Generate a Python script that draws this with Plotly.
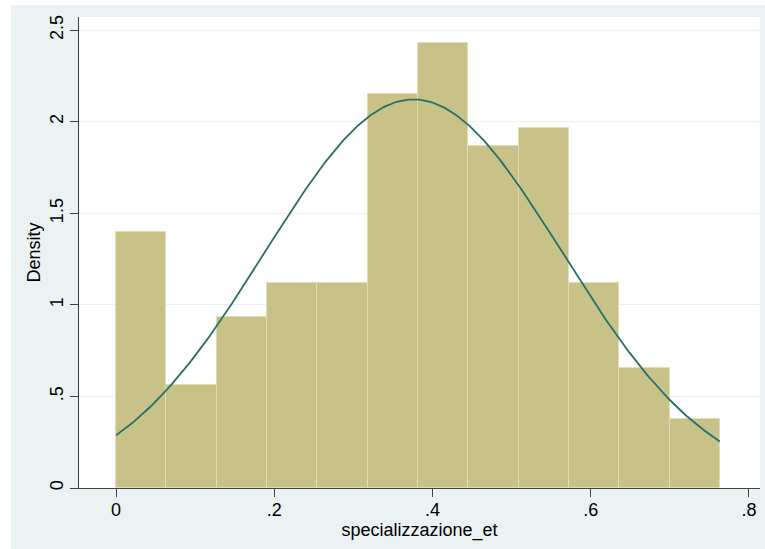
import numpy as np
import plotly.graph_objects as go

# Histogram data (density per bin)
bin_start = 0.0
bin_width = 0.0636
density = [1.40, 0.56, 0.935, 1.12, 1.12, 2.15, 2.43, 1.87, 1.965, 1.12, 0.655, 0.375]

# Normal overlay parameters
mu = 0.376
sigma = 0.188

x_ticks = [0, 0.2, 0.4, 0.6, 0.8]
x_tick_labels = ["0", ".2", ".4", ".6", ".8"]
y_ticks = [0, 0.5, 1, 1.5, 2, 2.5]
y_tick_labels = ["0", ".5", "1", "1.5", "2", "2.5"]

n_bins = len(density)
centers = [bin_start + bin_width * (i + 0.5) for i in range(n_bins)]
x_end = bin_start + bin_width * n_bins
xc = np.linspace(bin_start, x_end, 300)
yc = np.exp(-((xc - mu) ** 2) / (2 * sigma ** 2)) / (sigma * np.sqrt(2 * np.pi))

fig = go.Figure()
fig.add_trace(go.Bar(
    x=centers, y=density, width=bin_width,
    marker=dict(color="#C8C289", line=dict(color="#E2DEB3", width=1)),
    hoverinfo="skip", showlegend=False,
))
fig.add_trace(go.Scatter(
    x=xc, y=yc, mode="lines",
    line=dict(color="#27706A", width=1.8),
    hoverinfo="skip", showlegend=False,
))

W, H = 765, 549
ml, mr, mt, mb = 79, 5, 17, 61
pw, ph = W - ml - mr, H - mt - mb

def px_to_paper_x(px):
    return (px - ml) / pw

def px_to_paper_y(py):
    return (H - mb - py) / ph

fig.add_shape(type="rect", xref="paper", yref="paper",
              x0=px_to_paper_x(0), x1=px_to_paper_x(11),
              y0=px_to_paper_y(H), y1=px_to_paper_y(0),
              fillcolor="white", line=dict(width=0), layer="below")
fig.add_shape(type="rect", xref="paper", yref="paper",
              x0=px_to_paper_x(0), x1=px_to_paper_x(W),
              y0=px_to_paper_y(5), y1=px_to_paper_y(0),
              fillcolor="white", line=dict(width=0), layer="below")

font = dict(family="Liberation Sans, Arial, Helvetica, sans-serif", size=18, color="black")

fig.update_layout(
    width=W, height=H,
    margin=dict(l=ml, r=mr, t=mt, b=mb),
    paper_bgcolor="#EAF2F3",
    plot_bgcolor="white",
    font=font,
    bargap=0,
    xaxis=dict(
        range=[-0.0468, 0.814],
        tickvals=x_ticks, ticktext=x_tick_labels,
        ticks="outside", ticklen=8, tickcolor="#404040", tickwidth=1,
        showline=True, linecolor="#404040", linewidth=1,
        showgrid=False, zeroline=False,
        title=dict(text="specializzazione_et", standoff=3, font=font),
        tickfont=font,
        ticklabelstandoff=-3,
    ),
    yaxis=dict(
        range=[0, 2.572],
        tickvals=y_ticks, ticktext=y_tick_labels,
        tickangle=-90,
        ticks="outside", ticklen=8, tickcolor="#404040", tickwidth=1,
        showline=True, linecolor="#404040", linewidth=1,
        showgrid=True, gridcolor="#EAF2F3", gridwidth=1,
        zeroline=False,
        title=dict(text="Density", standoff=1, font=font),
        tickfont=font,
    ),
)

fig.write_html("out.html", config={"displayModeBar": False},
               post_script="document.body.style.margin='0';")
